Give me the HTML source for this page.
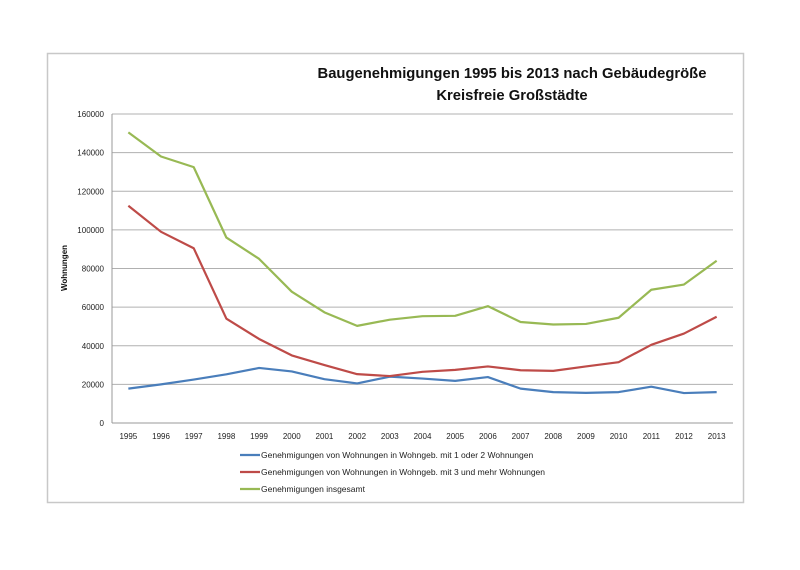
<!DOCTYPE html>
<html><head><meta charset="utf-8"><style>
html,body{margin:0;padding:0;background:#fff;}
body{width:800px;height:565px;overflow:hidden;font-family:"Liberation Sans",sans-serif;}
</style></head><body>
<svg width="800" height="565" xmlns="http://www.w3.org/2000/svg">
<rect x="47.5" y="53.5" width="696" height="449" fill="#fff" stroke="#c8c8c8" stroke-width="1.5"/>
<text x="512" y="78" text-anchor="middle" font-size="14.8" font-weight="bold" fill="#111">Baugenehmigungen 1995 bis 2013 nach Gebäudegröße</text>
<text x="512" y="100" text-anchor="middle" font-size="14.8" font-weight="bold" fill="#111">Kreisfreie Großstädte</text>
<text transform="translate(67,268) rotate(-90)" text-anchor="middle" font-size="8" font-weight="bold" fill="#111">Wohnungen</text>
<g id="grid"></g><g id="series"></g><g id="legend"></g>
</svg>
<script>
const years=["1995","1996","1997","1998","1999","2000","2001","2002","2003","2004","2005","2006","2007","2008","2009","2010","2011","2012","2013"];
const yTicks=[0,20000,40000,60000,80000,100000,120000,140000,160000];
const small=[17800,20000,22500,25200,28500,26700,22700,20500,24000,23000,21800,23800,17800,16000,15600,16000,18800,15500,16000];
const large=[112500,99000,90500,54000,43500,35000,30000,25300,24300,26500,27500,29300,27300,27000,29300,31500,40500,46300,55000];
const total=[150500,138000,132500,96000,85000,68000,57300,50300,53500,55300,55500,60500,52300,51000,51300,54500,69000,71700,84000];
const seriesNames=["Genehmigungen von Wohnungen in Wohngeb. mit 1 oder 2 Wohnungen","Genehmigungen von Wohnungen in Wohngeb. mit 3 und mehr Wohnungen","Genehmigungen insgesamt"];
const NS="http://www.w3.org/2000/svg";
const L=112,R=733,T=114,B=423;
const slot=(R-L)/years.length;
const x=i=>L+slot*(i+0.5);
const y=v=>B-(v/160000)*(B-T);
function mk(tag,attrs,parent){const e=document.createElementNS(NS,tag);for(const k in attrs)e.setAttribute(k,attrs[k]);parent.appendChild(e);return e;}
const grid=document.getElementById('grid');
yTicks.forEach(v=>{
  const ln=mk('line',{x1:L,x2:R,y1:y(v),y2:y(v),stroke:v===0?'#999':'#b0b0b0','stroke-width':1},grid);
  
  
  const t=mk('text',{x:L-8,y:y(v)+3,'text-anchor':'end','font-size':8,fill:'#222'},grid);
  t.textContent=v;
  
  
});
const ax=mk('line',{x1:L,x2:L,y1:T,y2:B,stroke:'#999','stroke-width':1},grid);


years.forEach((yr,i)=>{
  const t=mk('text',{x:x(i),y:B+16,'text-anchor':'middle','font-size':8,fill:'#222'},grid);
  t.textContent=yr;
  
  
});
const colors=['#4a7ebb','#be4b48','#98b954'];
const data=[small,large,total];
const sg=document.getElementById('series');
data.forEach((d,s)=>{
  const p=mk('polyline',{points:d.map((v,i)=>x(i)+','+y(v)).join(' '),fill:'none',stroke:colors[s],'stroke-width':2.2,'stroke-linejoin':'round'},sg);
  
  
});
const lg=document.getElementById('legend');
seriesNames.forEach((n,s)=>{
  const yy=455+s*17;
  const ln=mk('line',{x1:240,x2:260,y1:yy,y2:yy,stroke:colors[s],'stroke-width':2.2},lg);
  
  
  const t=mk('text',{x:261,y:yy+3,'font-size':8.5,fill:'#222'},lg);
  t.textContent=n;
  
  
});
</script>
</body></html>
